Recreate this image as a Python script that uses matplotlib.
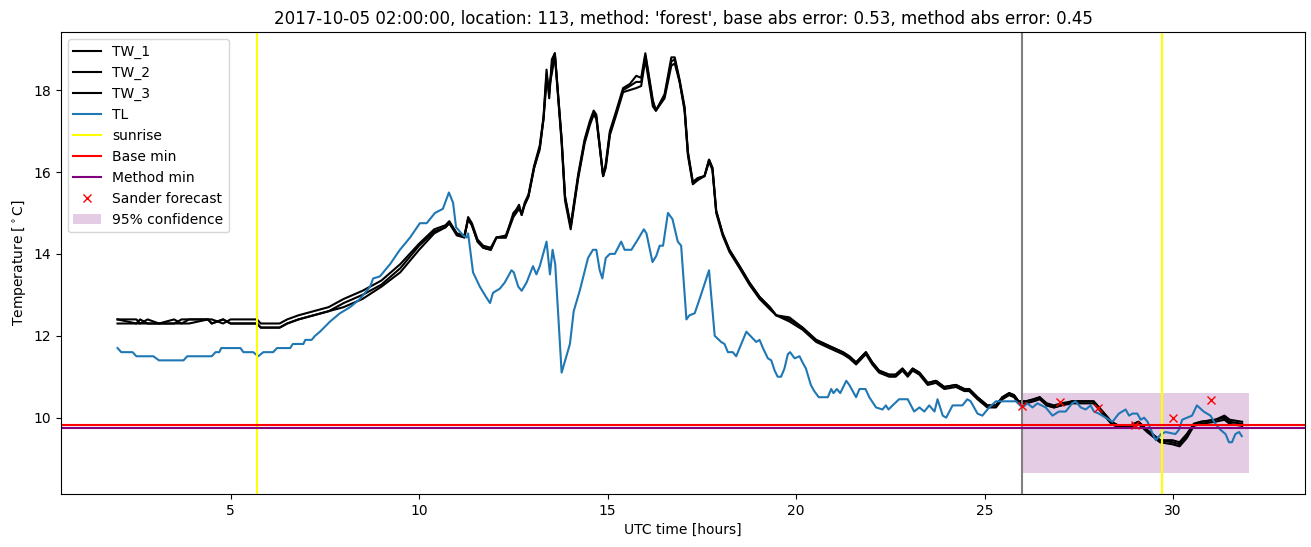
import numpy as np
import matplotlib
matplotlib.use('Agg')
import matplotlib.pyplot as plt

# road surface temperatures (TW_*), air temperature (TL), hours UTC
tw_hours = [2.0, 2.5, 2.6, 2.8, 3.1, 3.5, 3.7, 3.9, 4.4, 4.5, 4.8, 5.0, 5.7,
            5.8, 6.3, 6.5, 6.8, 7.2, 7.6, 8.0, 8.5, 9.0, 9.5, 10.0,
            10.4, 10.7, 10.8, 11.0, 11.2, 11.3, 11.4, 11.55, 11.7, 11.9, 12.05, 12.3,
            12.5, 12.65, 12.72, 12.8, 12.9, 13.05, 13.2, 13.3, 13.38, 13.45, 13.52, 13.6, 13.78, 13.87, 14.02,
            14.22, 14.39, 14.53, 14.63, 14.7, 14.88, 14.95, 15.06, 15.23, 15.41, 15.59, 15.76, 15.89, 16.0,
            16.2, 16.28, 16.51, 16.69, 16.78, 16.91, 17.04, 17.13, 17.26, 17.39, 17.57, 17.69, 17.78, 17.88, 18.05,
            18.23, 18.5, 18.76, 19.03, 19.3, 19.47, 19.82, 20.17, 20.53, 20.88, 21.24, 21.41,
            21.59, 21.85, 22.02, 22.2, 22.47, 22.64, 22.82, 22.96, 23.09, 23.27, 23.49, 23.71, 23.93, 24.24, 24.46, 24.59,
            24.81, 24.94, 25.07, 25.3, 25.47, 25.65, 25.78, 25.9, 26.1, 26.3, 26.46, 26.65, 26.84, 27.03, 27.32,
            27.89, 28.13, 28.36, 28.56, 28.84, 29.08, 29.31, 29.65, 29.98, 30.17, 30.36, 30.55, 30.74, 31.12, 31.36, 31.5, 31.83]

tw_1 = [12.4, 12.4, 12.3, 12.4, 12.3, 12.3, 12.4, 12.4, 12.4, 12.4, 12.3, 12.4, 12.4,
        12.3, 12.3, 12.4, 12.5, 12.6, 12.7, 12.9, 13.1, 13.35, 13.75, 14.25,
        14.6, 14.7, 14.8, 14.5, 14.4, 14.9, 14.75, 14.35, 14.2, 14.15, 14.4, 14.45,
        14.95, 15.2, 14.95, 15.25, 15.45, 16.15, 16.65, 17.35, 18.5, 17.8, 18.75, 18.9, 16.8, 15.4, 14.7,
        15.95, 16.8, 17.25, 17.5, 17.4, 15.9, 16.2, 17.0, 17.5, 18.05, 18.15, 18.35, 18.3, 18.9,
        17.75, 17.5, 17.9, 18.8, 18.8, 18.25, 17.6, 16.5, 15.75, 15.85, 15.9, 16.3, 16.1, 15.05, 14.5,
        14.1, 13.7, 13.3, 12.95, 12.7, 12.5, 12.45, 12.2, 11.9, 11.75, 11.6, 11.5,
        11.35, 11.6, 11.35, 11.15, 11.05, 11.05, 11.2, 11.05, 11.2, 11.1, 10.85, 10.9, 10.75, 10.8, 10.7, 10.7,
        10.5, 10.4, 10.3, 10.3, 10.5, 10.6, 10.55, 10.4, 10.4, 10.45, 10.5, 10.35, 10.3, 10.35, 10.4,
        10.4, 10.15, 9.9, 9.8, 9.8, 9.9, 9.7, 9.45, 9.45, 9.4, 9.6, 9.85, 9.9, 9.95, 10.05, 9.95, 9.9]

tw_2 = [12.3, 12.3, 12.3, 12.3, 12.3, 12.3, 12.3, 12.3, 12.4, 12.3, 12.4, 12.3, 12.3,
        12.2, 12.2, 12.3, 12.4, 12.5, 12.6, 12.7, 12.9, 13.2, 13.55, 14.1,
        14.5, 14.65, 14.75, 14.45, 14.4, 14.85, 14.7, 14.3, 14.15, 14.1, 14.4, 14.4,
        14.9, 15.1, 15.0, 15.2, 15.4, 16.1, 16.55, 17.3, 18.2, 18.1, 18.4, 18.85, 16.7, 15.3, 14.6,
        15.85, 16.7, 17.15, 17.4, 17.3, 15.9, 16.1, 16.9, 17.4, 17.95, 18.0, 18.05, 18.1, 18.75,
        17.6, 17.5, 17.8, 18.6, 18.65, 18.2, 17.5, 16.4, 15.7, 15.8, 15.9, 16.25, 16.05, 15.0, 14.45,
        14.05, 13.65, 13.25, 12.9, 12.65, 12.5, 12.35, 12.15, 11.85, 11.7, 11.55, 11.45,
        11.3, 11.55, 11.3, 11.1, 11.0, 11.0, 11.15, 11.0, 11.15, 11.05, 10.8, 10.85, 10.7, 10.75, 10.65, 10.65,
        10.45, 10.35, 10.25, 10.25, 10.45, 10.55, 10.5, 10.35, 10.35, 10.4, 10.45, 10.3, 10.25, 10.3, 10.35,
        10.35, 10.1, 9.85, 9.75, 9.75, 9.85, 9.65, 9.4, 9.35, 9.3, 9.5, 9.8, 9.85, 9.9, 9.95, 9.85, 9.8]

tw_3 = [12.4, 12.3, 12.4, 12.3, 12.3, 12.4, 12.3, 12.4, 12.4, 12.3, 12.4, 12.3, 12.3,
        12.2, 12.2, 12.3, 12.4, 12.5, 12.6, 12.8, 13.0, 13.25, 13.65, 14.2,
        14.55, 14.65, 14.75, 14.5, 14.45, 14.85, 14.7, 14.3, 14.15, 14.1, 14.4, 14.4,
        15.0, 15.15, 14.95, 15.2, 15.4, 16.1, 16.6, 17.3, 18.4, 17.9, 18.6, 18.9, 16.8, 15.4, 14.65,
        15.9, 16.75, 17.2, 17.45, 17.35, 15.9, 16.15, 16.95, 17.45, 18.0, 18.1, 18.2, 18.2, 18.85,
        17.7, 17.5, 17.85, 18.7, 18.75, 18.2, 17.55, 16.45, 15.75, 15.85, 15.9, 16.3, 16.1, 15.05, 14.5,
        14.1, 13.7, 13.3, 12.95, 12.7, 12.5, 12.4, 12.2, 11.9, 11.75, 11.6, 11.5,
        11.35, 11.6, 11.35, 11.15, 11.05, 11.05, 11.2, 11.05, 11.2, 11.1, 10.85, 10.9, 10.75, 10.8, 10.7, 10.7,
        10.5, 10.4, 10.3, 10.3, 10.5, 10.6, 10.55, 10.4, 10.4, 10.45, 10.5, 10.3, 10.25, 10.3, 10.4,
        10.4, 10.15, 9.9, 9.8, 9.8, 9.9, 9.7, 9.45, 9.4, 9.35, 9.55, 9.85, 9.9, 9.95, 10.0, 9.9, 9.85]

tl_hours = [2.0, 2.1, 2.4, 2.5, 2.95, 3.1, 3.75, 3.85, 4.5, 4.6, 4.7, 4.75, 5.26, 5.34, 5.6, 5.73, 5.87,
            6.13, 6.23, 6.58, 6.65, 6.93, 6.98, 7.15, 7.24, 7.37, 7.64, 7.9, 8.17, 8.43, 8.7, 8.78, 8.96,
            9.23, 9.49, 9.76, 10.02, 10.2, 10.42, 10.63, 10.79, 10.9, 10.98, 11.17, 11.26, 11.3, 11.43,
            11.61, 11.74, 11.88, 11.96, 12.14, 12.27, 12.45, 12.51, 12.63, 12.72, 12.85, 13.02, 13.11,
            13.2, 13.38, 13.47, 13.54, 13.61, 13.78, 14.0, 14.1, 14.26, 14.48, 14.61, 14.7, 14.79, 14.86,
            14.95, 15.06, 15.19, 15.36, 15.45, 15.63, 15.8, 15.96, 16.03, 16.19, 16.29, 16.38, 16.47,
            16.6, 16.72, 16.86, 16.95, 17.09, 17.17, 17.31, 17.44, 17.69, 17.84, 18.01, 18.1, 18.19,
            18.32, 18.41, 18.68, 18.94, 19.03, 19.12, 19.25, 19.34, 19.43, 19.51, 19.6, 19.69, 19.78,
            19.84, 19.96, 20.09, 20.17, 20.26, 20.39, 20.48, 20.6, 20.84, 20.93, 20.99, 21.08, 21.17,
            21.33, 21.41, 21.5, 21.59, 21.68, 21.84, 21.94, 22.12, 22.29, 22.38, 22.45, 22.56, 22.73,
            22.96, 23.13, 23.27, 23.4, 23.53, 23.67, 23.75, 23.89, 23.98, 24.15, 24.41, 24.54, 24.63,
            24.72, 24.81, 24.94, 25.12, 25.3, 25.83, 26.0, 26.13, 26.27, 26.4, 26.62, 26.8, 26.97,
            27.15, 27.32, 27.41, 27.55, 27.68, 27.81, 27.9, 28.03, 28.21, 28.39, 28.56, 28.74, 28.83,
            28.92, 29.05, 29.14, 29.23, 29.32, 29.46, 29.54, 29.68, 29.8, 30.06, 30.15, 30.24, 30.37,
            30.5, 30.63, 30.81, 30.99, 31.12, 31.26, 31.39, 31.48, 31.56, 31.65, 31.75, 31.82]

tl = [11.7, 11.6, 11.6, 11.5, 11.5, 11.4, 11.4, 11.5, 11.5, 11.6, 11.6, 11.7, 11.7, 11.6, 11.6, 11.5, 11.6,
      11.6, 11.7, 11.7, 11.8, 11.8, 11.9, 11.9, 12.0, 12.1, 12.35, 12.55, 12.7, 12.9, 13.2, 13.4, 13.45,
      13.75, 14.1, 14.4, 14.75, 14.75, 15.0, 15.1, 15.5, 15.25, 14.65, 14.45, 14.4, 14.5, 13.55,
      13.2, 13.0, 12.8, 13.05, 13.15, 13.3, 13.6, 13.55, 13.2, 13.1, 13.3, 13.7, 13.5,
      13.7, 14.3, 13.5, 14.1, 13.75, 11.1, 11.8, 12.6, 13.1, 13.9, 14.1, 14.1, 13.6, 13.4,
      13.9, 14.0, 14.0, 14.3, 14.1, 14.1, 14.35, 14.6, 14.5, 13.8, 13.95, 14.2, 14.2,
      15.0, 14.85, 14.3, 14.2, 12.4, 12.5, 12.55, 12.9, 13.6, 12.0, 11.85, 11.8, 11.6,
      11.6, 11.5, 12.1, 11.85, 11.9, 11.7, 11.45, 11.4, 11.15, 11.0, 11.0, 11.2, 11.55,
      11.6, 11.45, 11.5, 11.35, 11.2, 10.8, 10.65, 10.5, 10.5, 10.7, 10.6, 10.7, 10.6,
      10.9, 10.8, 10.65, 10.5, 10.7, 10.7, 10.5, 10.25, 10.2, 10.3, 10.2, 10.3, 10.45,
      10.45, 10.15, 10.25, 10.15, 10.3, 10.15, 10.45, 10.05, 10.0, 10.3, 10.3, 10.45, 10.4,
      10.25, 10.1, 10.05, 10.25, 10.4, 10.4, 10.25, 10.35, 10.25, 10.35, 10.25, 10.05, 10.15,
      10.15, 10.35, 10.4, 10.25, 10.2, 10.3, 10.15, 10.1, 10.0, 9.9, 10.1, 10.2, 10.05,
      10.1, 10.1, 9.95, 10.0, 9.9, 9.6, 9.45, 9.6, 9.65, 9.6, 9.7, 9.95, 10.0,
      10.05, 10.3, 10.15, 10.05, 9.85, 9.7, 9.6, 9.4, 9.4, 9.6, 9.65, 9.55]

sunrise = [5.7, 29.7]
forecast_time = 26.0
base_min = 9.83
method_min = 9.75

sander_hours = [26, 27, 28, 29, 30, 31]
sander_values = [10.28, 10.38, 10.24, 9.81, 9.99, 10.44]

conf_hours = [26, 32]
conf_low = 8.65
conf_high = 10.6

fig, ax = plt.subplots(figsize=(13.11, 5.47), dpi=100)
fig.subplots_adjust(left=0.0465, right=0.9955, top=0.941, bottom=0.097)

ax.plot(tw_hours, tw_1, color='black', label='TW_1')
ax.plot(tw_hours, tw_2, color='black', label='TW_2')
ax.plot(tw_hours, tw_3, color='black', label='TW_3')
ax.plot(tl_hours, tl, color='C0', label='TL')
ax.axvline(sunrise[0], color='yellow', label='sunrise')
ax.axvline(sunrise[1], color='yellow')
ax.axvline(forecast_time, color='gray')
ax.axhline(base_min, color='red', label='Base min')
ax.axhline(method_min, color='purple', label='Method min')
ax.plot(sander_hours, sander_values, 'x', color='red', label='Sander forecast')
ax.fill_between(conf_hours, conf_low, conf_high, color='purple', alpha=0.2,
                linewidth=0, label='95% confidence')

ax.set_xlabel('UTC time [hours]')
ax.set_ylabel(r'Temperature [$^\circ$C]')
ax.set_title("2017-10-05 02:00:00, location: 113, method: 'forest', "
             "base abs error: 0.53, method abs error: 0.45")
ax.legend(loc='upper left')

plt.savefig('out.png')
